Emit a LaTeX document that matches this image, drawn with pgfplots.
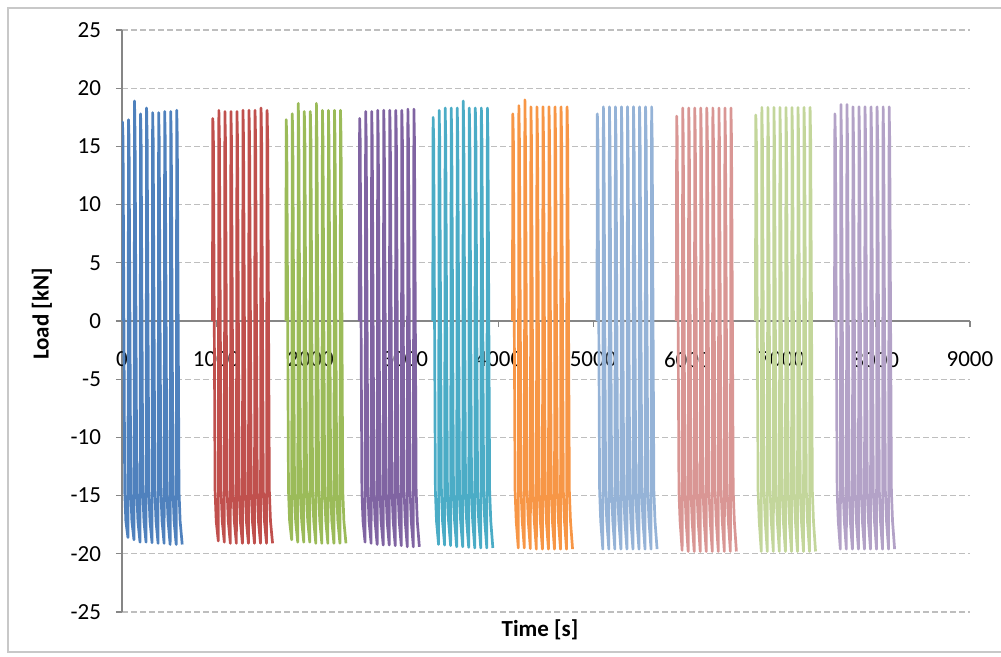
\documentclass[border=0pt]{standalone}
\usepackage{fontspec}
\setmainfont{Carlito}
\usepackage{pgfplots}
\pgfplotsset{compat=1.18}
\pgfplotsset{layers/mylayers/.define layer set={axis background,axis grid,axis ticks,axis lines,pre main,main,axis tick labels,axis descriptions,axis foreground}{}}
\definecolor{s1}{HTML}{4F81BD}
\definecolor{s2}{HTML}{C0504D}
\definecolor{s3}{HTML}{9BBB59}
\definecolor{s4}{HTML}{8064A2}
\definecolor{s5}{HTML}{4BACC6}
\definecolor{s6}{HTML}{F79646}
\definecolor{s7}{HTML}{95B3D7}
\definecolor{s8}{HTML}{D99694}
\definecolor{s9}{HTML}{C3D69B}
\definecolor{s10}{HTML}{B3A2C7}
\definecolor{axgray}{HTML}{868686}
\definecolor{gridgray}{HTML}{BEBEBE}
\definecolor{bordergray}{HTML}{C8C8C8}
\begin{document}
\begin{tikzpicture}
\begin{axis}[
  set layers=mylayers,
  at={(0,0)}, anchor=south west,
  scale only axis, width=424pt, height=291pt,
  xmin=0, xmax=9000, ymin=-25, ymax=25,
  axis x line=middle, axis y line=left,
  axis line style={-, draw=axgray, line width=0.6pt},
  hide obscured x ticks=false, hide obscured y ticks=false,
  xtick={0,1000,...,9000}, ytick={-25,-20,...,25},
  tick align=outside, major tick length=3pt,
  tick style={draw=axgray, line width=0.6pt},
  ymajorgrids, grid style={draw=gridgray, dash pattern=on 3pt off 1.5pt, line width=0.6pt},
  /pgf/number format/assume math mode=true,
  /pgf/number format/1000 sep={},
  tick label style={font=\fontsize{11.5}{13}\selectfont, text=black},
  xticklabel style={yshift=-9pt},
  yticklabel style={xshift=-4pt},
  every axis plot/.append style={line width=1.35pt, line join=round, no markers},
]
\addplot[s1] coordinates {(1,0)
(5,17.1)(11,15.6)(29,-14.6)(41,-17.2)(63,-18.6)
(69,17.3)(75,15.6)(93,-14.6)(105,-17.2)(127,-18.8)
(133,18.9)(139,15.6)(157,-14.6)(169,-17.2)(191,-19.0)
(197,17.8)(203,15.6)(221,-14.6)(233,-17.2)(255,-19.0)
(261,18.3)(267,15.6)(285,-14.6)(297,-17.2)(319,-19.05)
(325,17.9)(331,15.6)(349,-14.6)(361,-17.2)(383,-19.1)
(389,17.9)(395,15.6)(413,-14.6)(425,-17.2)(447,-19.1)
(453,18.0)(459,15.6)(477,-14.6)(489,-17.2)(511,-19.2)
(517,18.0)(523,15.6)(541,-14.6)(553,-17.2)(575,-19.2)
(581,18.1)(587,15.6)(605,-14.6)(617,-17.2)(639,-19.2)};
\addplot[s2] coordinates {(960,0)
(964,17.4)(970,15.6)(988,-14.6)(1000,-17.2)(1022,-18.9)
(1028,18.1)(1034,15.6)(1052,-14.6)(1064,-17.2)(1086,-19.0)
(1092,18.0)(1098,15.6)(1116,-14.6)(1128,-17.2)(1150,-19.1)
(1156,18.0)(1162,15.6)(1180,-14.6)(1192,-17.2)(1214,-19.1)
(1220,18.0)(1226,15.6)(1244,-14.6)(1256,-17.2)(1278,-19.1)
(1284,18.1)(1290,15.6)(1308,-14.6)(1320,-17.2)(1342,-19.1)
(1348,18.1)(1354,15.6)(1372,-14.6)(1384,-17.2)(1406,-19.1)
(1412,18.1)(1418,15.6)(1436,-14.6)(1448,-17.2)(1470,-19.1)
(1476,18.3)(1482,15.6)(1500,-14.6)(1512,-17.2)(1534,-19.1)
(1540,18.1)(1546,15.6)(1564,-14.6)(1576,-17.2)(1598,-19.1)};
\addplot[s3] coordinates {(1739,0)
(1743,17.3)(1749,15.6)(1767,-14.6)(1779,-17.2)(1801,-18.8)
(1807,17.8)(1813,15.6)(1831,-14.6)(1843,-17.2)(1865,-19.0)
(1871,18.7)(1877,15.6)(1895,-14.6)(1907,-17.2)(1929,-19.0)
(1935,18.0)(1941,15.6)(1959,-14.6)(1971,-17.2)(1993,-19.0)
(1999,18.0)(2005,15.6)(2023,-14.6)(2035,-17.2)(2057,-19.1)
(2063,18.7)(2069,15.6)(2087,-14.6)(2099,-17.2)(2121,-19.1)
(2127,18.1)(2133,15.6)(2151,-14.6)(2163,-17.2)(2185,-19.1)
(2191,18.1)(2197,15.6)(2215,-14.6)(2227,-17.2)(2249,-19.1)
(2255,18.1)(2261,15.6)(2279,-14.6)(2291,-17.2)(2313,-19.1)
(2319,18.1)(2325,15.6)(2343,-14.6)(2355,-17.2)(2377,-19.1)};
\addplot[s4] coordinates {(2518,0)
(2522,17.4)(2528,15.6)(2546,-14.6)(2558,-17.2)(2580,-19.0)
(2586,18.0)(2592,15.6)(2610,-14.6)(2622,-17.2)(2644,-19.1)
(2650,18.0)(2656,15.6)(2674,-14.6)(2686,-17.2)(2708,-19.2)
(2714,18.1)(2720,15.6)(2738,-14.6)(2750,-17.2)(2772,-19.25)
(2778,18.1)(2784,15.6)(2802,-14.6)(2814,-17.2)(2836,-19.25)
(2842,18.1)(2848,15.6)(2866,-14.6)(2878,-17.2)(2900,-19.3)
(2906,18.1)(2912,15.6)(2930,-14.6)(2942,-17.2)(2964,-19.3)
(2970,18.1)(2976,15.6)(2994,-14.6)(3006,-17.2)(3028,-19.4)
(3034,18.2)(3040,15.6)(3058,-14.6)(3070,-17.2)(3092,-19.4)
(3098,18.2)(3104,15.6)(3122,-14.6)(3134,-17.2)(3156,-19.4)};
\addplot[s5] coordinates {(3298,0)
(3302,17.5)(3308,15.6)(3326,-14.6)(3338,-17.2)(3360,-19.2)
(3366,18.1)(3372,15.6)(3390,-14.6)(3402,-17.2)(3424,-19.25)
(3430,18.3)(3436,15.6)(3454,-14.6)(3466,-17.2)(3488,-19.3)
(3494,18.3)(3500,15.6)(3518,-14.6)(3530,-17.2)(3552,-19.4)
(3558,18.3)(3564,15.6)(3582,-14.6)(3594,-17.2)(3616,-19.4)
(3622,18.9)(3628,15.6)(3646,-14.6)(3658,-17.2)(3680,-19.45)
(3686,18.3)(3692,15.6)(3710,-14.6)(3722,-17.2)(3744,-19.5)
(3750,18.3)(3756,15.6)(3774,-14.6)(3786,-17.2)(3808,-19.5)
(3814,18.3)(3820,15.6)(3838,-14.6)(3850,-17.2)(3872,-19.5)
(3878,18.3)(3884,15.6)(3902,-14.6)(3914,-17.2)(3936,-19.5)};
\addplot[s6] coordinates {(4144,0)
(4148,17.8)(4154,15.6)(4172,-14.6)(4184,-17.2)(4206,-19.5)
(4212,18.5)(4218,15.6)(4236,-14.6)(4248,-17.2)(4270,-19.5)
(4276,19.0)(4282,15.6)(4300,-14.6)(4312,-17.2)(4334,-19.55)
(4340,18.4)(4346,15.6)(4364,-14.6)(4376,-17.2)(4398,-19.6)
(4404,18.4)(4410,15.6)(4428,-14.6)(4440,-17.2)(4462,-19.6)
(4468,18.4)(4474,15.6)(4492,-14.6)(4504,-17.2)(4526,-19.6)
(4532,18.4)(4538,15.6)(4556,-14.6)(4568,-17.2)(4590,-19.6)
(4596,18.4)(4602,15.6)(4620,-14.6)(4632,-17.2)(4654,-19.6)
(4660,18.4)(4666,15.6)(4684,-14.6)(4696,-17.2)(4718,-19.6)
(4724,18.4)(4730,15.6)(4748,-14.6)(4760,-17.2)(4782,-19.6)};
\addplot[s7] coordinates {(5041,0)
(5045,17.8)(5051,15.6)(5069,-14.6)(5081,-17.2)(5103,-19.6)
(5109,18.4)(5115,15.6)(5133,-14.6)(5145,-17.2)(5167,-19.6)
(5173,18.4)(5179,15.6)(5197,-14.6)(5209,-17.2)(5231,-19.6)
(5237,18.4)(5243,15.6)(5261,-14.6)(5273,-17.2)(5295,-19.6)
(5301,18.4)(5307,15.6)(5325,-14.6)(5337,-17.2)(5359,-19.6)
(5365,18.4)(5371,15.6)(5389,-14.6)(5401,-17.2)(5423,-19.6)
(5429,18.4)(5435,15.6)(5453,-14.6)(5465,-17.2)(5487,-19.6)
(5493,18.4)(5499,15.6)(5517,-14.6)(5529,-17.2)(5551,-19.6)
(5557,18.4)(5563,15.6)(5581,-14.6)(5593,-17.2)(5615,-19.6)
(5621,18.4)(5627,15.6)(5645,-14.6)(5657,-17.2)(5679,-19.6)};
\addplot[s8] coordinates {(5883,0)
(5887,17.6)(5893,15.6)(5911,-14.6)(5923,-17.2)(5945,-19.7)
(5951,18.3)(5957,15.6)(5975,-14.6)(5987,-17.2)(6009,-19.8)
(6015,18.3)(6021,15.6)(6039,-14.6)(6051,-17.2)(6073,-19.8)
(6079,18.3)(6085,15.6)(6103,-14.6)(6115,-17.2)(6137,-19.8)
(6143,18.3)(6149,15.6)(6167,-14.6)(6179,-17.2)(6201,-19.8)
(6207,18.3)(6213,15.6)(6231,-14.6)(6243,-17.2)(6265,-19.8)
(6271,18.3)(6277,15.6)(6295,-14.6)(6307,-17.2)(6329,-19.8)
(6335,18.3)(6341,15.6)(6359,-14.6)(6371,-17.2)(6393,-19.8)
(6399,18.3)(6405,15.6)(6423,-14.6)(6435,-17.2)(6457,-19.8)
(6463,18.3)(6469,15.6)(6487,-14.6)(6499,-17.2)(6521,-19.8)};
\addplot[s9] coordinates {(6723,0)
(6727,17.7)(6733,15.6)(6751,-14.6)(6763,-17.2)(6785,-19.8)
(6791,18.35)(6797,15.6)(6815,-14.6)(6827,-17.2)(6849,-19.8)
(6855,18.35)(6861,15.6)(6879,-14.6)(6891,-17.2)(6913,-19.8)
(6919,18.35)(6925,15.6)(6943,-14.6)(6955,-17.2)(6977,-19.8)
(6983,18.35)(6989,15.6)(7007,-14.6)(7019,-17.2)(7041,-19.8)
(7047,18.35)(7053,15.6)(7071,-14.6)(7083,-17.2)(7105,-19.8)
(7111,18.35)(7117,15.6)(7135,-14.6)(7147,-17.2)(7169,-19.8)
(7175,18.35)(7181,15.6)(7199,-14.6)(7211,-17.2)(7233,-19.8)
(7239,18.35)(7245,15.6)(7263,-14.6)(7275,-17.2)(7297,-19.8)
(7303,18.35)(7309,15.6)(7327,-14.6)(7339,-17.2)(7361,-19.8)};
\addplot[s10] coordinates {(7562,0)
(7566,17.8)(7572,15.6)(7590,-14.6)(7602,-17.2)(7624,-19.6)
(7630,18.6)(7636,15.6)(7654,-14.6)(7666,-17.2)(7688,-19.6)
(7694,18.6)(7700,15.6)(7718,-14.6)(7730,-17.2)(7752,-19.6)
(7758,18.4)(7764,15.6)(7782,-14.6)(7794,-17.2)(7816,-19.6)
(7822,18.4)(7828,15.6)(7846,-14.6)(7858,-17.2)(7880,-19.6)
(7886,18.4)(7892,15.6)(7910,-14.6)(7922,-17.2)(7944,-19.6)
(7950,18.4)(7956,15.6)(7974,-14.6)(7986,-17.2)(8008,-19.6)
(8014,18.4)(8020,15.6)(8038,-14.6)(8050,-17.2)(8072,-19.6)
(8078,18.4)(8084,15.6)(8102,-14.6)(8114,-17.2)(8136,-19.6)
(8142,18.4)(8148,15.6)(8166,-14.6)(8178,-17.2)(8200,-19.6)};
\end{axis}
\node[rotate=90, font=\fontsize{11.5}{13}\selectfont\bfseries] at (-40pt,149pt) {Load [kN]};
\node[font=\fontsize{11.5}{13}\selectfont\bfseries] at (209pt,-9pt) {Time [s]};
\draw[bordergray, line width=0.8pt] (-57pt,-20pt) rectangle (445pt,302pt);
\pgfresetboundingbox
\path[use as bounding box] (-61pt,-22.5pt) rectangle (439.5pt,306pt);
\end{tikzpicture}
\end{document}
